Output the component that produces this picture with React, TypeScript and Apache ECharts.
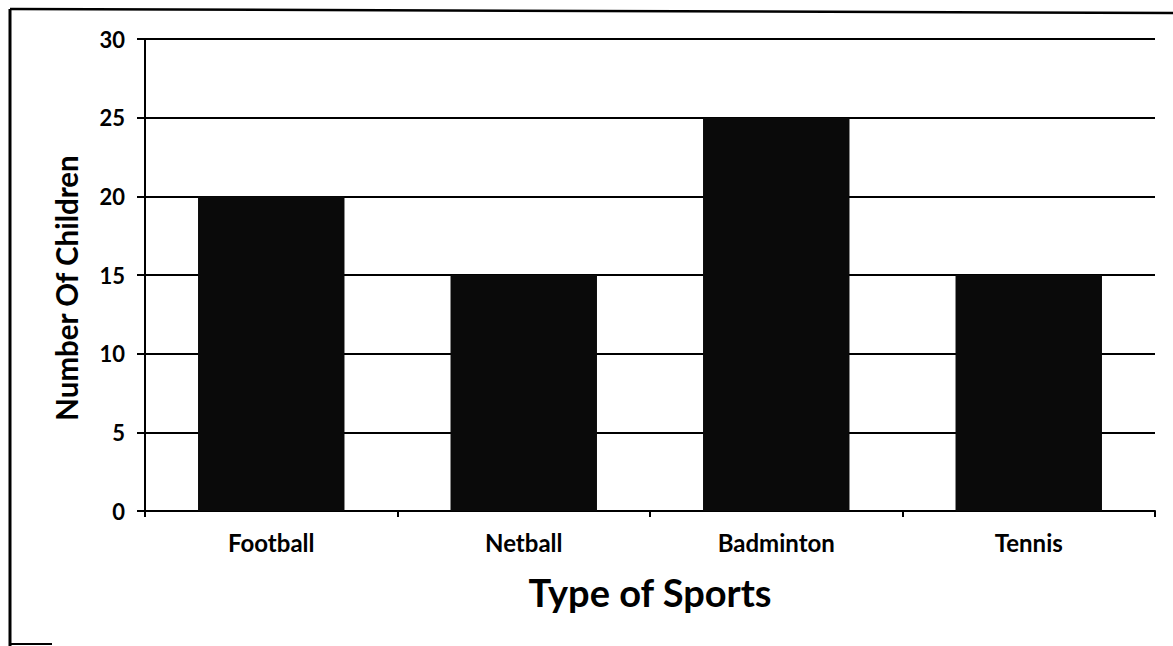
import React, { useEffect, useRef } from "react";
import * as echarts from "echarts";

const categories = ["Football", "Netball", "Badminton", "Tennis"];
const values = [20, 15, 25, 15];
const yTicks = { min: 0, max: 30, interval: 5 };
const xTitle = "Type of Sports";
const yTitle = "Number Of Children";

export default function App() {
  const ref = useRef<HTMLDivElement>(null);
  useEffect(() => {
    if (!ref.current) return;
    const chart = echarts.init(ref.current, undefined, { renderer: "svg" });
    const font = "Lato, 'Open Sans', sans-serif";
    chart.setOption({
      animation: false,
      backgroundColor: "#ffffff",
      grid: { left: 145, right: 18, top: 39, bottom: 135 },
      xAxis: {
        type: "category",
        data: categories,
        name: xTitle,
        nameLocation: "middle",
        nameGap: 62,
        nameTextStyle: { fontFamily: font, fontWeight: "bold", fontSize: 38, color: "#000" },
        axisLine: { lineStyle: { color: "#000", width: 2 } },
        axisTick: { show: true, length: 6, lineStyle: { color: "#000", width: 2 } },
        axisLabel: { fontFamily: font, fontWeight: "bold", fontSize: 24, color: "#000", margin: 19 },
      },
      yAxis: {
        type: "value",
        min: yTicks.min,
        max: yTicks.max,
        interval: yTicks.interval,
        name: yTitle,
        nameLocation: "middle",
        nameGap: 64,
        nameTextStyle: { fontFamily: font, fontWeight: "bold", fontSize: 29.5, color: "#000", padding: [0, 26, 0, 0] },
        axisLine: { show: true, lineStyle: { color: "#000", width: 2 } },
        axisTick: { show: true, length: 8, lineStyle: { color: "#000", width: 2 } },
        axisLabel: { fontFamily: font, fontWeight: "bold", fontSize: 22, color: "#000", margin: 20 },
        splitLine: { show: true, lineStyle: { color: "#000", width: 2 } },
      },
      series: [
        {
          type: "bar",
          data: values,
          barWidth: "58%",
          itemStyle: { color: "#0a0a0a" },
        },
      ],
      graphic: [
        { type: "line", shape: { x1: 10, y1: 9, x2: 10, y2: 646 }, style: { stroke: "#000", lineWidth: 3 } },
        { type: "line", shape: { x1: 10, y1: 9, x2: 1173, y2: 13 }, style: { stroke: "#000", lineWidth: 2.5 } },
        { type: "line", shape: { x1: 10, y1: 644, x2: 52, y2: 644 }, style: { stroke: "#000", lineWidth: 2 } },
      ],
    });
    return () => chart.dispose();
  }, []);
  return (
    <div
      ref={ref}
      style={{ position: "fixed", left: 0, top: 0, width: 1173, height: 646, background: "#fff" }}
    />
  );
}
